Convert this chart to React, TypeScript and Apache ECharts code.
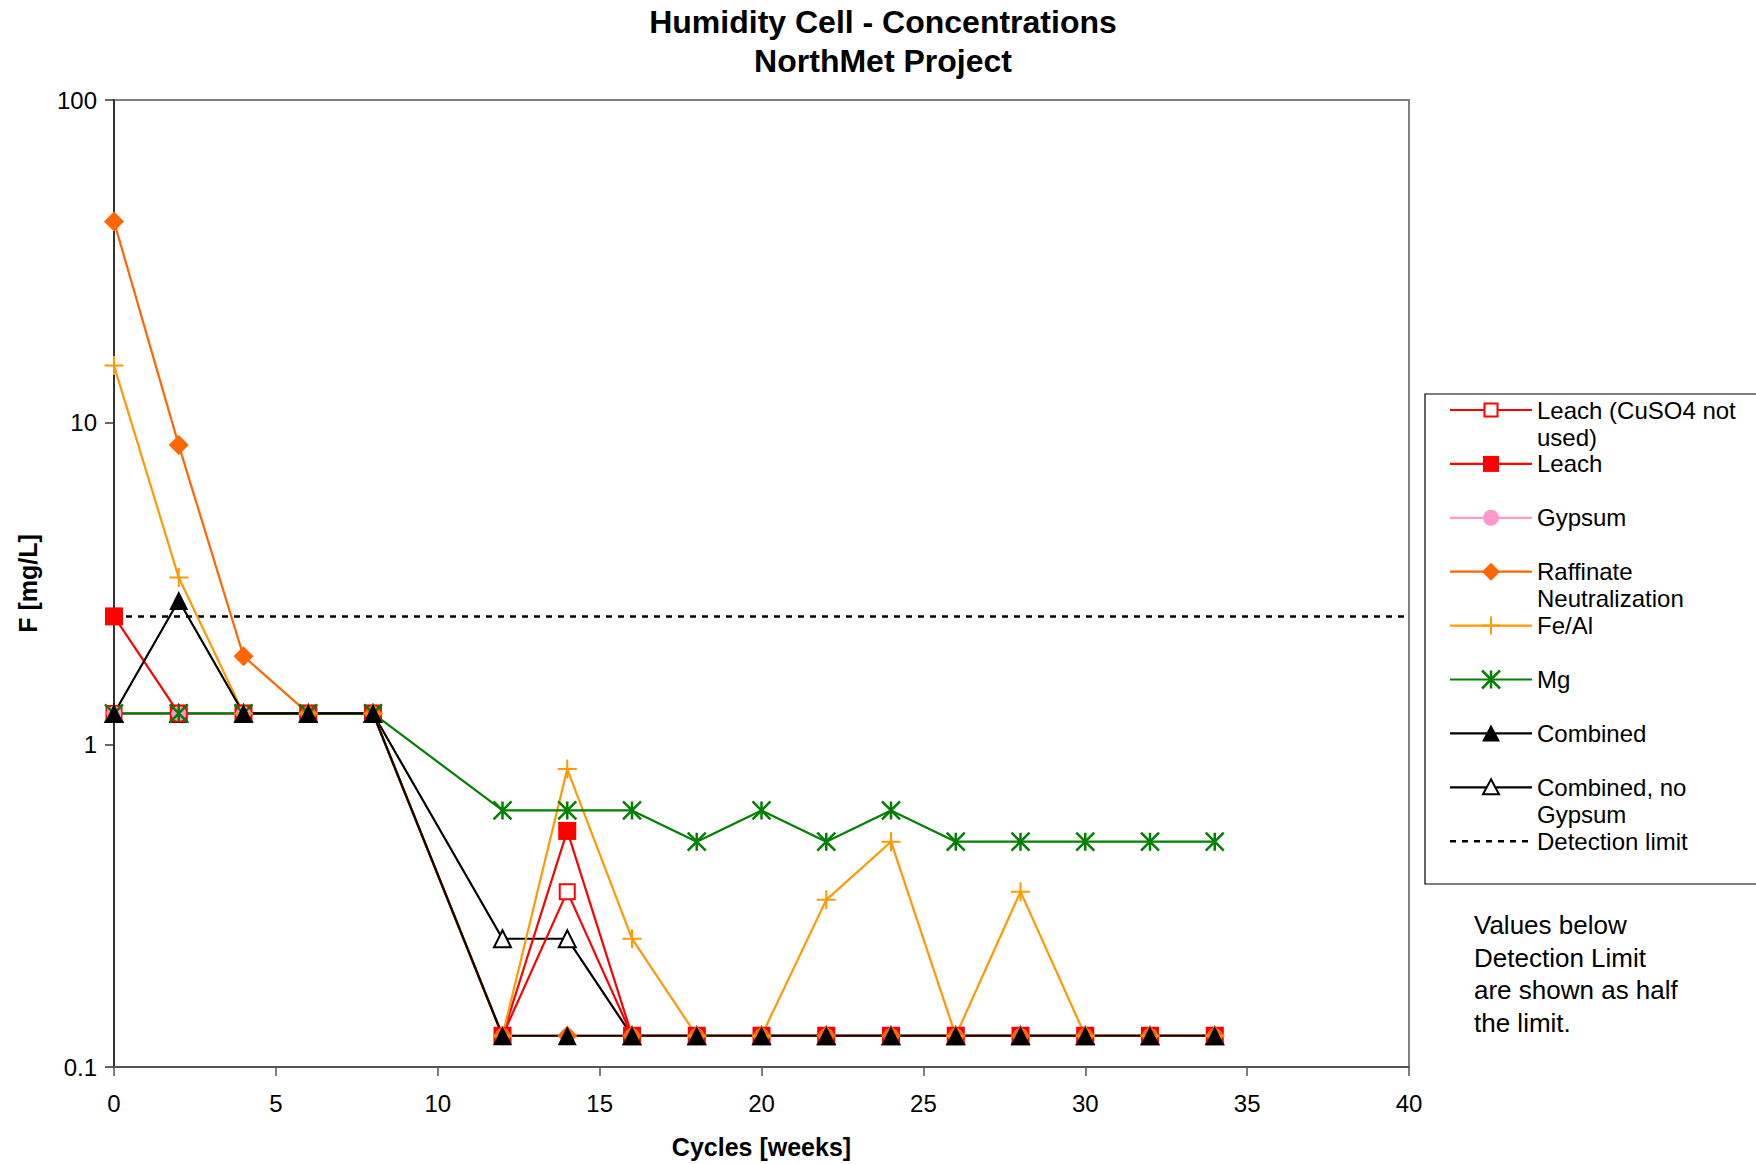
import React, { useEffect, useRef } from "react";
import * as echarts from "echarts";

const FONT = '"Liberation Sans", Arial, Helvetica, sans-serif';

// ---- data ----
const cycles = [0, 2, 4, 6, 8, 12, 14, 16, 18, 20, 22, 24, 26, 28, 30, 32, 34];
const leachNoCuSO4 = [1.25, 1.25, 1.25, 1.25, 1.25, 0.125, 0.35, 0.125, 0.125, 0.125, 0.125, 0.125, 0.125, 0.125, 0.125, 0.125, 0.125];
const leach = [2.5, 1.25, 1.25, 1.25, 1.25, 0.125, 0.54, 0.125, 0.125, 0.125, 0.125, 0.125, 0.125, 0.125, 0.125, 0.125, 0.125];
const gypsum = [1.25, 1.25, 1.25, 1.25, 1.25, 0.125, 0.125, 0.125, 0.125, 0.125, 0.125, 0.125, 0.125, 0.125, 0.125, 0.125, 0.125];
const raffinate = [42, 8.5, 1.88, 1.25, 1.25, 0.125, 0.125, 0.125, 0.125, 0.125, 0.125, 0.125, 0.125, 0.125, 0.125, 0.125, 0.125];
const feAl = [15, 3.3, 1.25, 1.25, 1.25, 0.125, 0.84, 0.25, 0.125, 0.125, 0.33, 0.5, 0.125, 0.35, 0.125, 0.125, 0.125];
const mg = [1.25, 1.25, 1.25, 1.25, 1.25, 0.625, 0.625, 0.625, 0.5, 0.625, 0.5, 0.625, 0.5, 0.5, 0.5, 0.5, 0.5];
const combined = [1.25, 2.8, 1.25, 1.25, 1.25, 0.125, 0.125, 0.125, 0.125, 0.125, 0.125, 0.125, 0.125, 0.125, 0.125, 0.125, 0.125];
const combinedNoGypsum = [1.25, 1.25, 1.25, 1.25, 1.25, 0.25, 0.25, 0.125, 0.125, 0.125, 0.125, 0.125, 0.125, 0.125, 0.125, 0.125, 0.125];
const detectionX = [0, 40];
const detectionLimit = 2.5;

const seriesNames = [
  "Leach (CuSO4 not used)",
  "Leach",
  "Gypsum",
  "Raffinate Neutralization",
  "Fe/Al",
  "Mg",
  "Combined",
  "Combined, no Gypsum",
];
const legendLabels = [
  "Leach (CuSO4 not\nused)",
  "Leach",
  "Gypsum",
  "Raffinate\nNeutralization",
  "Fe/Al",
  "Mg",
  "Combined",
  "Combined, no\nGypsum",
  "Detection limit",
];
const seriesValues = [leachNoCuSO4, leach, gypsum, raffinate, feAl, mg, combined, combinedNoGypsum];
const seriesColors = ["#FF0000", "#FF0000", "#FF99CC", "#FF6600", "#FF9900", "#008000", "#000000", "#000000"];
const seriesMarkers = ["emptyRect", "rect", "circle", "diamond", "plus", "asterisk", "triangle", "emptyTriangle"];
// drawing order (index into series lists), first drawn at the bottom
const drawOrder = [7, 0, 1, 2, 3, 4, 5, 6];

const yTicks = ["0.1", "1", "10", "100"];

const PLUS_PATH = "path://M0,10 L20,10 M10,0 L10,20";
const STAR_PATH = "path://M0,0 L20,20 M20,0 L0,20 M10,0 L10,20";

function symbolFor(kind: string): { symbol: string; size: number; bw: number } {
  switch (kind) {
    case "emptyRect": return { symbol: "emptyRect", size: 15, bw: 2 };
    case "rect": return { symbol: "rect", size: 18, bw: 0 };
    case "circle": return { symbol: "circle", size: 15, bw: 0 };
    case "diamond": return { symbol: "diamond", size: 20, bw: 0 };
    case "plus": return { symbol: PLUS_PATH, size: 19, bw: 2 };
    case "asterisk": return { symbol: STAR_PATH, size: 18, bw: 2.5 };
    case "triangle": return { symbol: "triangle", size: 19, bw: 0 };
    case "emptyTriangle": return { symbol: "emptyTriangle", size: 17, bw: 2 };
  }
  return { symbol: "circle", size: 10, bw: 0 };
}

function legendMarker(kind: string, color: string, cx: number, cy: number): any[] {
  switch (kind) {
    case "emptyRect":
      return [{ type: "rect", shape: { x: cx - 6.5, y: cy - 6.5, width: 13, height: 13 }, style: { fill: "#fff", stroke: color, lineWidth: 2 } }];
    case "rect":
      return [{ type: "rect", shape: { x: cx - 8, y: cy - 8, width: 16, height: 16 }, style: { fill: color } }];
    case "circle":
      return [{ type: "circle", shape: { cx, cy, r: 8 }, style: { fill: color } }];
    case "diamond":
      return [{ type: "polygon", shape: { points: [[cx, cy - 9], [cx + 9, cy], [cx, cy + 9], [cx - 9, cy]] }, style: { fill: color } }];
    case "plus":
      return [
        { type: "line", shape: { x1: cx - 9, y1: cy, x2: cx + 9, y2: cy }, style: { stroke: color, lineWidth: 2 } },
        { type: "line", shape: { x1: cx, y1: cy - 9, x2: cx, y2: cy + 9 }, style: { stroke: color, lineWidth: 2 } },
      ];
    case "asterisk":
      return [
        { type: "line", shape: { x1: cx - 9, y1: cy - 9, x2: cx + 9, y2: cy + 9 }, style: { stroke: color, lineWidth: 2.5 } },
        { type: "line", shape: { x1: cx + 9, y1: cy - 9, x2: cx - 9, y2: cy + 9 }, style: { stroke: color, lineWidth: 2.5 } },
        { type: "line", shape: { x1: cx, y1: cy - 9, x2: cx, y2: cy + 9 }, style: { stroke: color, lineWidth: 2.5 } },
      ];
    case "triangle":
      return [{ type: "polygon", shape: { points: [[cx, cy - 9], [cx + 9, cy + 8], [cx - 9, cy + 8]] }, style: { fill: color } }];
    case "emptyTriangle":
      return [{ type: "polygon", shape: { points: [[cx, cy - 8], [cx + 8, cy + 7], [cx - 8, cy + 7]] }, style: { fill: "#fff", stroke: color, lineWidth: 2 } }];
  }
  return [];
}

export default function App() {
  const ref = useRef<HTMLDivElement>(null);

  useEffect(() => {
    if (!ref.current) return;
    const chart = echarts.init(ref.current, null, { renderer: "svg" });

    const series: any[] = [
      {
        name: "Detection limit",
        type: "line",
        data: detectionX.map((x) => [x, detectionLimit]),
        symbol: "none",
        lineStyle: { color: "#000", width: 2.5, type: [6, 6] },
        emphasis: { disabled: true },
      },
    ];
    drawOrder.forEach((i) => {
      const s = symbolFor(seriesMarkers[i]);
      series.push({
        name: seriesNames[i],
        type: "line",
        data: cycles.map((c, j) => [c, seriesValues[i][j]]),
        symbol: s.symbol,
        symbolSize: s.size,
        showAllSymbol: true,
        lineStyle: { color: seriesColors[i], width: 2.2 },
        itemStyle: { color: seriesColors[i], borderColor: seriesColors[i], borderWidth: s.bw },
        emphasis: { disabled: true },
      });
    });

    // legend built as graphic
    const lgX1 = 1450, lgX2 = 1532, lgMx = 1491, lgTx = 1537;
    const legendEls: any[] = [
      { type: "rect", shape: { x: 1425, y: 394, width: 400, height: 490 }, style: { fill: "#fff", stroke: "#000", lineWidth: 1.2 } },
    ];
    legendLabels.forEach((label, i) => {
      const cy = 410 + 53.9 * i;
      const isDet = i === seriesNames.length;
      const color = isDet ? "#000" : seriesColors[i];
      legendEls.push({
        type: "line",
        shape: { x1: lgX1, y1: cy, x2: lgX2, y2: cy },
        style: isDet ? { stroke: "#000", lineWidth: 2.5, lineDash: [6, 6] } : { stroke: color, lineWidth: 2.2 },
      });
      if (!isDet) legendEls.push(...legendMarker(seriesMarkers[i], color, lgMx, cy));
      legendEls.push({
        type: "text",
        x: lgTx,
        y: cy - 13.5,
        style: { text: label, fontSize: 24, fontFamily: FONT, fill: "#000", lineHeight: 27, verticalAlign: "top", align: "left" },
      });
    });

    const option: any = {
      animation: false,
      backgroundColor: "#fff",
      title: {
        text: "Humidity Cell - Concentrations\nNorthMet Project",
        left: 883,
        top: 2,
        padding: 0,
        textAlign: "center",
        textStyle: { fontFamily: FONT, fontSize: 32, fontWeight: "bold", color: "#000", lineHeight: 39 },
      },
      grid: { left: 114, top: 100, width: 1295, height: 967, show: true, borderColor: "#808080", borderWidth: 2, backgroundColor: "transparent" },
      xAxis: {
        type: "value",
        min: 0,
        max: 40,
        interval: 5,
        name: "Cycles [weeks]",
        nameLocation: "middle",
        nameGap: 67,
        nameTextStyle: { fontFamily: FONT, fontSize: 25, fontWeight: "bold", color: "#000" },
        axisLine: { show: true, onZero: false, lineStyle: { color: "#555", width: 2 } },
        axisTick: { show: true, inside: false, length: 9, lineStyle: { color: "#555", width: 1.5 } },
        axisLabel: { margin: 24, fontFamily: FONT, fontSize: 24, color: "#000" },
        splitLine: { show: false },
      },
      yAxis: {
        type: "log",
        logBase: 10,
        min: 0.1,
        max: 100,
        name: "F [mg/L]",
        nameLocation: "middle",
        nameGap: 74,
        nameTextStyle: { fontFamily: FONT, fontSize: 25, fontWeight: "bold", color: "#000" },
        axisLine: { show: true, lineStyle: { color: "#333", width: 2 } },
        axisTick: { show: true, inside: false, length: 9, lineStyle: { color: "#333", width: 1.5 } },
        axisLabel: {
          margin: 17,
          fontFamily: FONT,
          fontSize: 24,
          color: "#000",
          formatter: (v: number) => {
            const idx = Math.round(Math.log10(v)) + 1;
            return yTicks[idx] ?? String(v);
          },
        },
        splitLine: { show: false },
      },
      legend: { show: false },
      series,
      graphic: [
        ...legendEls,
        {
          type: "text",
          x: 1474,
          y: 909,
          style: {
            text: "Values below\nDetection Limit\nare shown as half\nthe limit.",
            fontSize: 26,
            fontFamily: FONT,
            fill: "#000",
            lineHeight: 32.5,
            verticalAlign: "top",
            align: "left",
          },
        },
      ],
    };

    chart.setOption(option);
    return () => chart.dispose();
  }, []);

  return <div ref={ref} style={{ position: "fixed", left: 0, top: 0, width: 1756, height: 1164, background: "#fff" }} />;
}
